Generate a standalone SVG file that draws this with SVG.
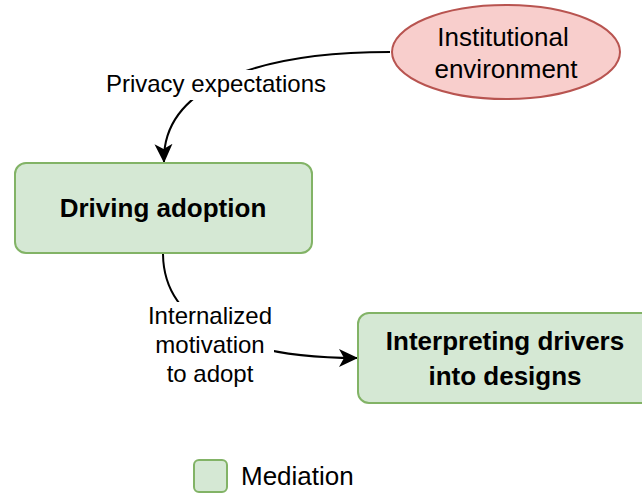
<svg xmlns="http://www.w3.org/2000/svg" width="642" height="494" viewBox="0 0 642 494">
  <style>
    .mediation { fill: #d5e8d4; stroke: #82b366; stroke-width: 2; }
    .context { fill: #f8cecc; stroke: #b85450; stroke-width: 2; }
    .node-text { font-family: "Liberation Sans", Arial, sans-serif; font-size: 26px; fill: #000; text-anchor: middle; }
    .node-title { font-family: "Liberation Sans", Arial, sans-serif; font-size: 26px; font-weight: bold; fill: #000; text-anchor: middle; }
    .edge { fill: none; stroke: #000; stroke-width: 2; }
    .edge-label { font-family: "Liberation Sans", Arial, sans-serif; font-size: 24px; fill: #000; text-anchor: middle; }
    .label-bg { fill: #fff; stroke: none; }
  </style>
  <defs>
    <marker id="arrow" viewBox="0 0 20 20" refX="18" refY="10" markerWidth="20" markerHeight="20" markerUnits="userSpaceOnUse" orient="auto">
      <path d="M0,1 L19,10 L0,19 L5,10 Z" fill="#000"/>
    </marker>
  </defs>

  <rect width="642" height="494" fill="#fff"/>

  <!-- connectors, drawn first so the label backgrounds sit on top -->
  <g id="connectors">
    <path class="edge" d="M390,52 C245,52 162,92 164,162" marker-end="url(#arrow)"/>
    <rect class="label-bg" x="103" y="70" width="228" height="30"/>
    <text class="edge-label" x="216" y="92">Privacy expectations</text>

    <path class="edge" d="M163,253 C163,330 250,358 357,358" marker-end="url(#arrow)"/>
    <rect class="label-bg" x="146" y="302" width="128" height="88"/>
    <text class="edge-label" x="210" y="324">Internalized</text>
    <text class="edge-label" x="210" y="353">motivation</text>
    <text class="edge-label" x="210" y="382">to adopt</text>
  </g>

  <g id="institutional-environment">
    <ellipse class="context" cx="506" cy="52" rx="114" ry="47"/>
    <text class="node-text" x="503" y="46">Institutional</text>
    <text class="node-text" x="506" y="78">environment</text>
  </g>

  <g id="driving-adoption">
    <rect class="mediation" x="15" y="163" width="297" height="90" rx="11"/>
    <text class="node-title" x="163" y="217">Driving adoption</text>
  </g>

  <g id="interpreting-drivers">
    <rect class="mediation" x="358" y="313" width="294" height="90" rx="11"/>
    <text class="node-title" x="505" y="350">Interpreting drivers</text>
    <text class="node-title" x="505" y="385">into designs</text>
  </g>

  <g id="legend">
    <rect class="mediation" x="194" y="460" width="33" height="32" rx="5"/>
    <text class="node-text" x="241" y="485" style="text-anchor:start">Mediation</text>
  </g>
</svg>
